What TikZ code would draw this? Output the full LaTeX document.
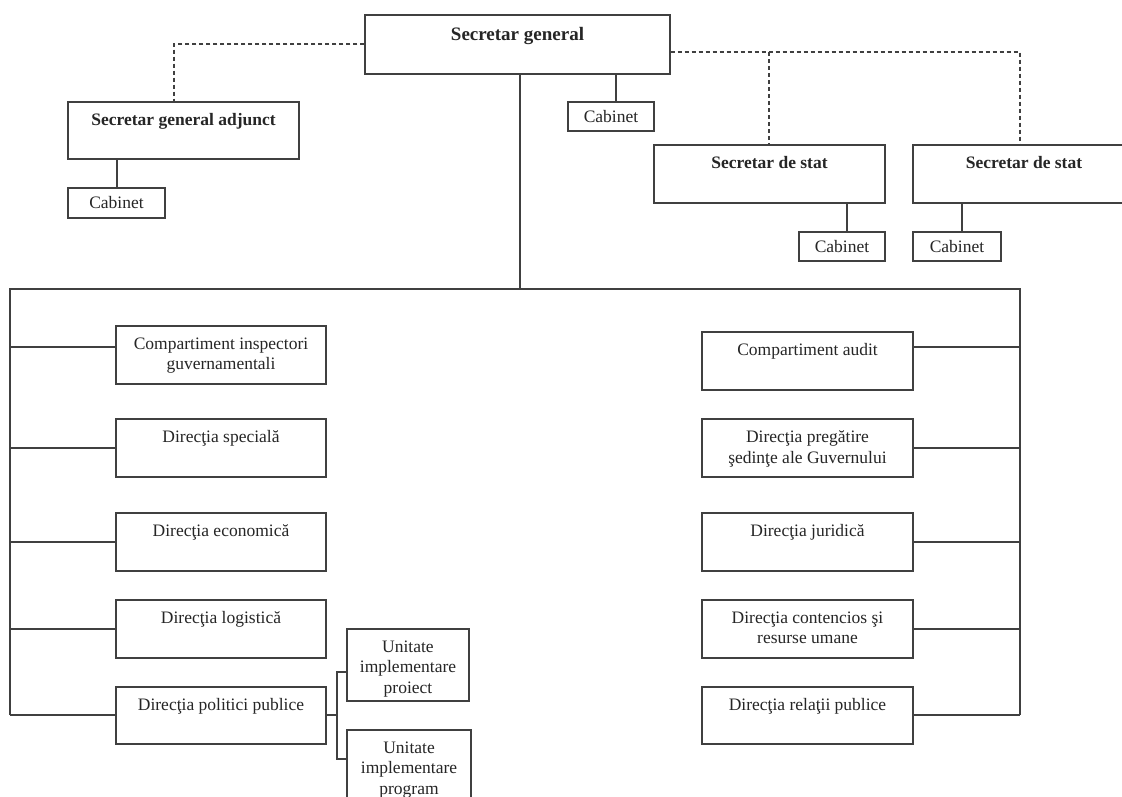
\documentclass[tikz,border=0pt]{standalone}
\usepackage{fontspec}
\setmainfont{Liberation Serif}
\usetikzlibrary{positioning}
\newcommand\fsz{\fontsize{17.5}{20.5}\selectfont}
\newcommand\fszb{\fontsize{19}{22}\selectfont}
\begin{document}
\begin{tikzpicture}[x=1pt,y=-1pt,
  box/.style={draw=black!75, line width=1.2pt, rectangle, inner sep=0pt},
  ln/.style={draw=black!75, line width=1.2pt},
  dsh/.style={draw=black!75, line width=1.2pt, dash pattern=on 4pt off 3pt},
  lbl/.style={anchor=north, align=center, inner sep=0pt, font=\fsz, text=black!85},
  blbl/.style={lbl, font=\fsz\bfseries},
  cab/.style={box, font=\fsz, text=black!85},
  top/.style={box, minimum width=231pt, minimum height=58pt},
  col/.style={box, minimum width=210pt, minimum height=58pt},
  unit/.style={box, minimum width=123pt, minimum height=72pt}]
\clip (0,0) rectangle (1122,796);
\fill[white] (0,0) rectangle (1122,796);

% top level
\node[box, minimum width=305pt, minimum height=59pt] (SG) at (517.5,44.5) {};
\node[blbl, font=\fszb\bfseries, below=13pt of SG.north] (SGt) {Secretar general};

\node[top, minimum height=57pt] (Adj) at (183.5,130.5) {};
\node[blbl, below=12pt of Adj.north] (Adjt) {Secretar general adjunct};

\node[top] (SdS1) at (769.5,174) {};
\node[blbl, below=12pt of SdS1.north] (SdS1t) {Secretar de stat};
\node[top, minimum width=222pt] (SdS2) at (1024,174) {};
\node[blbl, below=12pt of SdS2.north] (SdS2t) {Secretar de stat};

\node[cab, minimum width=97pt, minimum height=30pt] (CabA) at (116.5,203) {Cabinet};
\node[cab, minimum width=86pt, minimum height=29pt] (CabSG) at (611,116.5) {Cabinet};
\node[cab, minimum width=86pt, minimum height=29pt] (Cab1) at (842,246.5) {Cabinet};
\node[cab, minimum width=88pt, minimum height=29pt] (Cab2) at (957,246.5) {Cabinet};

% left column
\node[col] (L1) at (221,355) {};
\node[lbl, below=12pt of L1.north] (L1t) {Compartiment inspectori\\guvernamentali};
\node[col] (L2) at (221,448) {};
\node[lbl, below=12pt of L2.north] (L2t) {Direcţia specială};
\node[col] (L3) at (221,542) {};
\node[lbl, below=12pt of L3.north] (L3t) {Direcţia economică};
\node[col] (L4) at (221,629) {};
\node[lbl, below=12pt of L4.north] (L4t) {Direcţia logistică};
\node[col, minimum height=57pt] (L5) at (221,715.5) {};
\node[lbl, below=12pt of L5.north] (L5t) {Direcţia politici publice};

% right column
\node[col, minimum width=211pt] (R1) at (807.5,361) {};
\node[lbl, below=12pt of R1.north] (R1t) {Compartiment audit};
\node[col, minimum width=211pt] (R2) at (807.5,448) {};
\node[lbl, below=12pt of R2.north] (R2t) {Direcţia pregătire\\şedinţe ale Guvernului};
\node[col, minimum width=211pt] (R3) at (807.5,542) {};
\node[lbl, below=12pt of R3.north] (R3t) {Direcţia juridică};
\node[col, minimum width=211pt] (R4) at (807.5,629) {};
\node[lbl, below=12pt of R4.north] (R4t) {Direcţia contencios şi\\resurse umane};
\node[col, minimum width=211pt, minimum height=57pt] (R5) at (807.5,715.5) {};
\node[lbl, below=12pt of R5.north] (R5t) {Direcţia relaţii publice};

% units
\node[unit, minimum width=122pt] (U1) at (408,665) {};
\node[lbl, below=12pt of U1.north] (U1t) {Unitate\\implementare\\proiect};
\node[unit, minimum width=124pt] (U2) at (409,766) {};
\node[lbl, below=12pt of U2.north] (U2t) {Unitate\\implementare\\program};

% dashed links
\coordinate (dR) at (1020,52);
\coordinate (dM) at (769,52);
\draw[dsh] (SG.west |- 0,44) -| (Adj.north -| 174,0);
\draw[dsh] (SG.east |- dR) -- (dR) -- (SdS2.north -| dR);
\draw[dsh] (dM) -- (SdS1.north -| dM);

% cabinet links
\draw[ln] (Adj.south -| 117,0) -- (CabA.north -| 117,0);
\draw[ln] (SG.south -| 616,0) -- (CabSG.north -| 616,0);
\draw[ln] (SdS1.south -| 847,0) -- (Cab1.north -| 847,0);
\draw[ln] (SdS2.south -| 962,0) -- (Cab2.north -| 962,0);

% main tree
\coordinate (bus) at (520,289);
\coordinate (busL) at (10,289);
\coordinate (busR) at (1020,289);
\coordinate (endL) at (10,715);
\coordinate (endR) at (1020,715);
\draw[ln] (SG.south -| bus) -- (bus);
\draw[ln] (endL) -- (busL) -- (busR) -- (endR);
\foreach \n/\yy in {L1/347,L2/448,L3/542,L4/629,L5/715}
  \draw[ln] (\n.west |- 0,\yy) -- (busL |- 0,\yy);
\foreach \n/\yy in {R1/347,R2/448,R3/542,R4/629,R5/715}
  \draw[ln] (\n.east |- 0,\yy) -- (busR |- 0,\yy);

% units links
\coordinate (sub) at (337,715);
\draw[ln] (L5.east |- sub) -- (sub);
\draw[ln] (U1.west |- 0,672) -- (sub |- 0,672) -- (sub |- 0,759) -- (U2.west |- 0,759);
\end{tikzpicture}
\end{document}
